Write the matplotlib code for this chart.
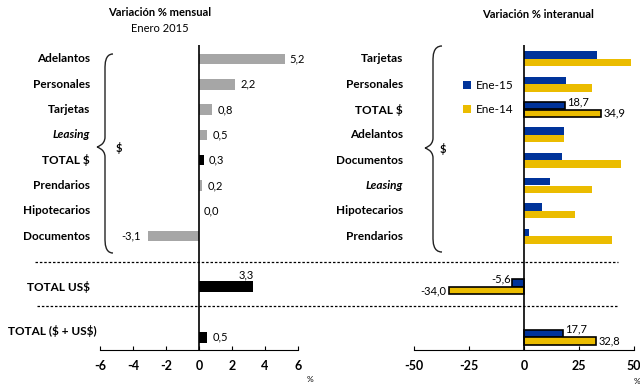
import matplotlib.pyplot as plt
from matplotlib.lines import Line2D
from matplotlib.path import Path
from matplotlib.patches import PathPatch

plt.rcParams["font.family"] = ["Lato", "DejaVu Sans"]

# monthly variation (left panel)
mensual_cats = ["Adelantos", "Personales", "Tarjetas", "Leasing", "TOTAL $",
                "Prendarios", "Hipotecarios", "Documentos"]
mensual_vals = [5.2, 2.2, 0.8, 0.5, 0.3, 0.2, 0.0, -3.1]
total_usd_mensual = 3.3
total_all_mensual = 0.5

# year-on-year variation (right panel)
inter_cats = ["Tarjetas", "Personales", "TOTAL $", "Adelantos", "Documentos",
              "Leasing", "Hipotecarios", "Prendarios"]
ene15 = [33.3, 19.2, 18.7, 18.0, 17.1, 12.0, 8.4, 2.1]
ene14 = [48.6, 30.8, 34.9, 18.0, 43.9, 30.8, 23.2, 39.8]
total_usd_inter = [-5.6, -34.0]
total_all_inter = [17.7, 32.8]

GRAY = "#a6a6a6"
BLUE = "#00339a"
YELLOW = "#ebbc00"
W, H = 640, 385


def fmt(v):
    return f"{v:.1f}".replace(".", ",")


def fx(px):
    return px / W


def fy(py):
    return 1 - py / H


def style_axis(ax, lim, ticks):
    ax.set_xlim(*lim)
    ax.set_ylim(11.5, -0.55)
    for s in ["top", "right", "left"]:
        ax.spines[s].set_visible(False)
    ax.axvline(0, color="black", lw=1.2)
    ax.tick_params(axis="x", direction="in", length=3)
    ax.set_xticks(ticks, [])
    # bold tick labels drawn as plain texts
    for t in ticks:
        ax.text(t, -0.053, str(t), transform=ax.get_xaxis_transform(),
                ha="center", va="center", fontsize=9, fontweight="bold")
    ax.set_yticks([])
    ax.patch.set_visible(False)


def brace(fig, x_arm, x_line, x_tip, y_top, y_tip, y_bot):
    # curly brace in pixel coords, opening to the right
    c = 10
    verts = [
        (x_arm, y_top),
        (x_line, y_top), (x_line, y_top + c), (x_line, y_top + c + 5),
        (x_line, y_tip - c),
        (x_line, y_tip - 2), (x_tip, y_tip), (x_tip, y_tip),
        (x_tip, y_tip), (x_line, y_tip + 2), (x_line, y_tip + c),
        (x_line, y_bot - c - 5),
        (x_line, y_bot - c), (x_line, y_bot), (x_arm, y_bot),
    ]
    codes = [Path.MOVETO,
             Path.CURVE4, Path.CURVE4, Path.CURVE4,
             Path.LINETO,
             Path.CURVE4, Path.CURVE4, Path.CURVE4,
             Path.CURVE4, Path.CURVE4, Path.CURVE4,
             Path.LINETO,
             Path.CURVE4, Path.CURVE4, Path.CURVE4]
    verts = [(fx(a), fy(b)) for a, b in verts]
    fig.add_artist(PathPatch(Path(verts, codes), transform=fig.transFigure,
                             fill=False, edgecolor="#222222", lw=1.0))


fig = plt.figure(figsize=(6.4, 3.85), dpi=100)

rows = list(range(8))
y_usd = 9.0
y_all = 11.0
lab_kw = dict(ha="right", va="center", fontsize=8.5, fontweight="bold")

# ---------- left panel
ax1 = fig.add_axes([fx(100), fy(350), 198 / W, 305 / H])
colors = ["black" if c == "TOTAL $" else GRAY for c in mensual_cats]
ax1.barh(rows, mensual_vals, height=0.42, color=colors)
for y, v in zip(rows, mensual_vals):
    if v >= 0:
        ax1.text(v + 0.3, y, fmt(v), ha="left", va="center", fontsize=8)
    else:
        ax1.text(v - 0.4, y, fmt(v), ha="right", va="center", fontsize=8)
ax1.barh([y_usd], [total_usd_mensual], height=0.45, color="black")
ax1.text(total_usd_mensual, y_usd - 0.25, fmt(total_usd_mensual),
         ha="right", va="bottom", fontsize=8)
ax1.barh([y_all], [total_all_mensual], height=0.42, color="black")
ax1.text(total_all_mensual + 0.3, y_all, fmt(total_all_mensual),
         ha="left", va="center", fontsize=8)
style_axis(ax1, (-6, 6), [-6, -4, -2, 0, 2, 4, 6])
for y, c in zip(rows, mensual_cats):
    ax1.text(-6.6, y, c, fontstyle="italic" if c == "Leasing" else "normal", **lab_kw)
ax1.text(-6.6, y_usd, "TOTAL US\\$", **lab_kw)
fig.text(fx(8), fy(331), "TOTAL (\\$ + US\\$)", ha="left", va="center",
         fontsize=8.5, fontweight="bold")

# ---------- right panel
ax2 = fig.add_axes([fx(414), fy(350), 220 / W, 305 / H])
off = 0.15
h = 0.29
pos15 = [r - off for r in rows]
pos14 = [r + off for r in rows]
edge = ["black" if c == "TOTAL $" else "none" for c in inter_cats]
lw = [1.2 if c == "TOTAL $" else 0 for c in inter_cats]
ax2.barh(pos15, ene15, height=h, color=BLUE, edgecolor=edge, linewidth=lw, label="Ene-15")
ax2.barh(pos14, ene14, height=h, color=YELLOW, edgecolor=edge, linewidth=lw, label="Ene-14")
i_tot = inter_cats.index("TOTAL $")
ax2.text(ene15[i_tot] + 1, pos15[i_tot] + 0.05, fmt(ene15[i_tot]),
         ha="left", va="bottom", fontsize=8)
ax2.text(ene14[i_tot] + 1.2, pos14[i_tot], fmt(ene14[i_tot]),
         ha="left", va="center", fontsize=8)

ax2.barh([y_usd - off], [total_usd_inter[0]], height=h, color=BLUE, edgecolor="black", lw=1.2)
ax2.barh([y_usd + off], [total_usd_inter[1]], height=h, color=YELLOW, edgecolor="black", lw=1.2)
ax2.text(total_usd_inter[0] - 0.5, y_usd - off + 0.05, fmt(total_usd_inter[0]),
         ha="right", va="bottom", fontsize=8)
ax2.text(total_usd_inter[1] - 1.2, y_usd + off, fmt(total_usd_inter[1]),
         ha="right", va="center", fontsize=8)

ax2.barh([y_all - off], [total_all_inter[0]], height=h, color=BLUE, edgecolor="black", lw=1.2)
ax2.barh([y_all + off], [total_all_inter[1]], height=h, color=YELLOW, edgecolor="black", lw=1.2)
ax2.text(total_all_inter[0] + 1, y_all - off + 0.05, fmt(total_all_inter[0]),
         ha="left", va="bottom", fontsize=8)
ax2.text(total_all_inter[1] + 1.2, y_all + off, fmt(total_all_inter[1]),
         ha="left", va="center", fontsize=8)

style_axis(ax2, (-50, 50), [-50, -25, 0, 25, 50])
for y, c in zip(rows, inter_cats):
    ax2.text(-55, y, c.replace("$", "\\$"),
             fontstyle="italic" if c == "Leasing" else "normal", **lab_kw)

ax2.legend(loc="upper left", bbox_to_anchor=(0.2, 0.9), frameon=False,
           fontsize=8.5, handlelength=0.7, handleheight=0.7,
           handletextpad=0.4, labelspacing=1.1, borderaxespad=0)

# ---------- titles and annotations (figure coordinates)
fig.text(fx(160), fy(13), "Variación % mensual", ha="center", va="center",
         fontsize=8, fontweight="bold")
fig.text(fx(160), fy(28), "Enero 2015", ha="center", va="center", fontsize=8)
fig.text(fx(538), fy(15), "Variación % interanual", ha="center", va="center",
         fontsize=8, fontweight="bold")
fig.text(fx(310), fy(379), "%", ha="center", va="center", fontsize=6)
fig.text(fx(637), fy(381), "%", ha="center", va="center", fontsize=6)

# braces with "$"
brace(fig, 113, 105, 97, 54, 147, 253)
fig.text(fx(119), fy(148), "\\$", ha="center", va="center", fontsize=8, fontweight="bold")
brace(fig, 442, 433, 425, 46, 148, 252)
fig.text(fx(443), fy(149), "\\$", ha="center", va="center", fontsize=8, fontweight="bold")

# dashed separators
for yy, x0 in [(262, 35), (306, 37)]:
    fig.add_artist(Line2D([fx(x0), fx(618)], [fy(yy), fy(yy)],
                          transform=fig.transFigure, color="black", lw=0.9,
                          linestyle=(0, (2, 1.5))))

fig.savefig("out.png", dpi=100)
